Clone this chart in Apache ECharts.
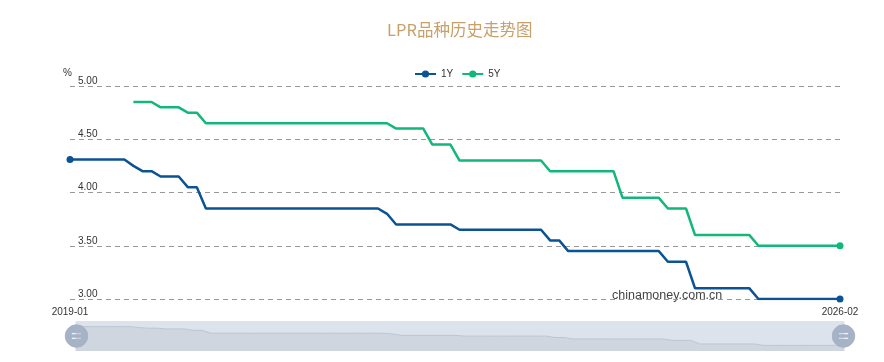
<!DOCTYPE html>
<html>
<head>
<meta charset="utf-8">
<script src="https://cdn.jsdelivr.net/npm/echarts@6/dist/echarts.min.js"></script>
<style>html,body{margin:0;padding:0;background:#fff;}#c{width:884px;height:362px;}</style>
</head>
<body>
<div id="c"></div>
<script>
const categories = [
'2019-01','2019-02','2019-03','2019-04','2019-05','2019-06','2019-07','2019-08','2019-09','2019-10','2019-11','2019-12',
'2020-01','2020-02','2020-03','2020-04','2020-05','2020-06','2020-07','2020-08','2020-09','2020-10','2020-11','2020-12',
'2021-01','2021-02','2021-03','2021-04','2021-05','2021-06','2021-07','2021-08','2021-09','2021-10','2021-11','2021-12',
'2022-01','2022-02','2022-03','2022-04','2022-05','2022-06','2022-07','2022-08','2022-09','2022-10','2022-11','2022-12',
'2023-01','2023-02','2023-03','2023-04','2023-05','2023-06','2023-07','2023-08','2023-09','2023-10','2023-11','2023-12',
'2024-01','2024-02','2024-03','2024-04','2024-05','2024-06','2024-07','2024-08','2024-09','2024-10','2024-11','2024-12',
'2025-01','2025-02','2025-03','2025-04','2025-05','2025-06','2025-07','2025-08','2025-09','2025-10','2025-11','2025-12',
'2026-01','2026-02'];

const lpr1Y = [
4.31,4.31,4.31,4.31,4.31,4.31,4.31,4.25,4.20,4.20,4.15,4.15,
4.15,4.05,4.05,3.85,3.85,3.85,3.85,3.85,3.85,3.85,3.85,3.85,
3.85,3.85,3.85,3.85,3.85,3.85,3.85,3.85,3.85,3.85,3.85,3.80,
3.70,3.70,3.70,3.70,3.70,3.70,3.70,3.65,3.65,3.65,3.65,3.65,
3.65,3.65,3.65,3.65,3.65,3.55,3.55,3.45,3.45,3.45,3.45,3.45,
3.45,3.45,3.45,3.45,3.45,3.45,3.35,3.35,3.35,3.10,3.10,3.10,
3.10,3.10,3.10,3.10,3.00,3.00,3.00,3.00,3.00,3.00,3.00,3.00,
3.00,3.00];

const lpr5Y = [
null,null,null,null,null,null,null,4.85,4.85,4.85,4.80,4.80,
4.80,4.75,4.75,4.65,4.65,4.65,4.65,4.65,4.65,4.65,4.65,4.65,
4.65,4.65,4.65,4.65,4.65,4.65,4.65,4.65,4.65,4.65,4.65,4.65,
4.60,4.60,4.60,4.60,4.45,4.45,4.45,4.30,4.30,4.30,4.30,4.30,
4.30,4.30,4.30,4.30,4.30,4.20,4.20,4.20,4.20,4.20,4.20,4.20,
4.20,3.95,3.95,3.95,3.95,3.95,3.85,3.85,3.85,3.60,3.60,3.60,
3.60,3.60,3.60,3.60,3.50,3.50,3.50,3.50,3.50,3.50,3.50,3.50,
3.50,3.50];

const seriesNames = ['1Y', '5Y'];
const yTicks = [3.0, 3.5, 4.0, 4.5, 5.0];
const colors = ['#0b5394', '#12b77a'];

function withEndSymbols(arr) {
  const last = arr.length - 1;
  return arr.map((v, i) => {
    if (v == null) return null;
    const show = (i === 0) || (i === last);
    return { value: v, symbol: show ? 'circle' : 'none', symbolSize: 7 };
  });
}

const handlePath = 'path://M512,0 A512,512 0 1,1 511.9,0 Z M280,360 L280,460 L744,460 L744,360 Z M280,564 L280,664 L744,664 L744,564 Z';

const chart = echarts.init(document.getElementById('c'));
chart.setOption({
  animation: false,
  color: colors,
  title: {
    text: 'LPR品种历史走势图',
    left: 382,
    top: 16,
    textStyle: { color: '#c9a06a', fontSize: 16.5, fontWeight: 'normal', fontFamily: 'Noto Sans CJK SC' }
  },
  legend: {
    top: 64,
    left: 409,
    itemWidth: 21,
    itemHeight: 9,
    itemGap: 8,
    data: seriesNames,
    textStyle: { color: '#333', fontSize: 10, fontFamily: 'Liberation Sans' }
  },
  grid: { left: 70, right: 44, top: 86, bottom: 63 },
  graphic: [{
    type: 'text',
    left: 612,
    top: 289,
    silent: true,
    style: { text: 'chinamoney.com.cn', fill: '#444', fontSize: 12.5, fontFamily: 'Liberation Sans' }
  }],
  xAxis: {
    type: 'category',
    data: categories,
    boundaryGap: false,
    axisLine: { show: false },
    axisTick: { show: false },
    axisLabel: {
      interval: (i) => i === 0 || i === categories.length - 1,
      showMinLabel: true,
      showMaxLabel: true,
      color: '#333',
      fontSize: 10,
      margin: 8,
      fontFamily: 'Liberation Sans'
    },
    splitLine: { show: false }
  },
  yAxis: {
    type: 'value',
    min: yTicks[0],
    max: yTicks[yTicks.length - 1],
    interval: 0.5,
    name: '%',
    nameGap: 8,
    nameTextStyle: { color: '#333', fontSize: 10, align: 'right', padding: [0, -2, 0, 0] },
    axisLine: { show: false },
    axisTick: { show: false },
    axisLabel: {
      inside: true,
      margin: 8,
      verticalAlign: 'bottom',
      padding: [0, 0, 0, 0],
      color: '#333',
      fontSize: 10,
      fontFamily: 'Liberation Sans',
      formatter: (v) => v.toFixed(2)
    },
    splitLine: { show: true, lineStyle: { type: [5, 4], color: '#999', width: 1 } }
  },
  dataZoom: [{
    type: 'slider',
    xAxisIndex: 0,
    start: 0,
    end: 100,
    left: 73,
    right: 42,
    bottom: 11,
    height: 30,
    showDetail: false,
    moveHandleSize: 0,
    borderColor: 'transparent',
    backgroundColor: '#dde3ec',
    fillerColor: 'rgba(0,0,0,0)',
    handleIcon: handlePath,
    handleSize: '75%',
    handleStyle: { color: '#a6b3c7', borderColor: '#a6b3c7' },
    dataBackground: {
      lineStyle: { color: '#bcc6d3', width: 1 },
      areaStyle: { color: '#cfd6e0', opacity: 1 }
    },
    selectedDataBackground: {
      lineStyle: { color: '#bcc6d3', width: 1 },
      areaStyle: { color: '#cfd6e0', opacity: 1 }
    },
    emphasis: { handleStyle: { color: '#a6b3c7' } },
    brushSelect: false
  }],
  series: [
    {
      name: seriesNames[0],
      type: 'line',
      symbol: 'circle',
      symbolSize: 7,
      data: withEndSymbols(lpr1Y),
      showSymbol: true,
      showAllSymbol: true,
      lineStyle: { width: 2.5, color: colors[0] },
      itemStyle: { color: colors[0] },
      connectNulls: false
    },
    {
      name: seriesNames[1],
      type: 'line',
      symbol: 'circle',
      symbolSize: 7,
      data: withEndSymbols(lpr5Y).map((d, i) => (d && i === 7) ? { value: d.value, symbol: 'none' } : d),
      showSymbol: true,
      showAllSymbol: true,
      lineStyle: { width: 2.5, color: colors[1] },
      itemStyle: { color: colors[1] },
      connectNulls: false
    }
  ]
});
</script>
</body>
</html>
